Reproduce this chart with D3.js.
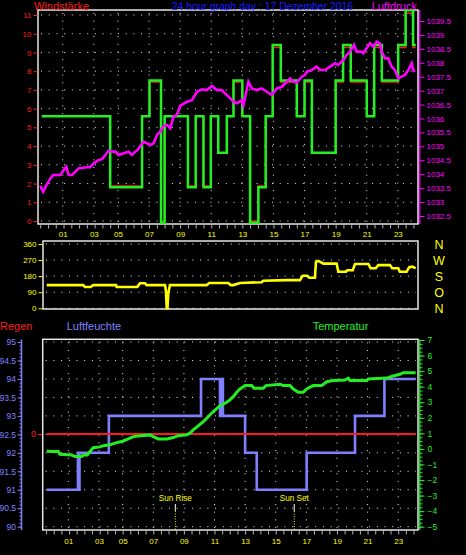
<!DOCTYPE html>
<html><head><meta charset="utf-8">
<script src="https://cdn.jsdelivr.net/npm/d3@7"></script>
<style>html,body{margin:0;padding:0;background:#000;overflow:hidden}</style>
</head><body><svg id="c" width="466" height="555"></svg>
<script>
// ---------- data ----------
const hourTicks = [1.45, 3.45, 5, 7, 9, 11, 13, 15, 17, 19, 21, 23];
const hourLabels = ["01","03","05","07","09","11","13","15","17","19","21","23"];

const windTicks = [0,1,2,3,4,5,6,7,8,9,10,11];
const pressTicks = [1032.5,1033,1033.5,1034,1034.5,1035,1035.5,1036,1036.5,1037,1037.5,1038,1038.5,1039,1039.5];
const dirTicks = [0,90,180,270,360];
const dirLabels = ["0","90","180","270","360"];
const dirLetters = ["N","O","S","W","N"];
const humTicks = [90,90.5,91,91.5,92,92.5,93,93.5,94,94.5,95];
const tempTicks = [-5,-4,-3,-2,-1,0,1,2,3,4,5,6,7];
const rainTicks = [0];

const windTimes = [0.1,4.5,6.55,7.03,7.77,8.0,9.5,10.0,10.5,10.97,11.45,12.0,12.43,13.0,13.5,14.03,14.5,14.95,15.47,16.5,17.0,17.47,19.0,19.48,19.97,21.0,21.48,21.97,23.02,23.5,23.98,24.15];
const windGust = [5.6,1.8,5.6,7.5,-0.1,5.6,1.8,5.6,1.8,5.6,3.65,5.6,7.5,5.6,-0.1,1.8,5.6,9.4,7.5,5.6,7.5,3.65,7.5,9.4,7.5,5.6,9.4,7.5,9.4,11.25,9.4,9.4];
const windAvg  = [5.6,1.87,5.6,7.42,0.0,5.6,1.87,5.6,1.87,5.6,3.65,5.6,7.42,5.6,0.0,1.87,5.6,9.26,7.42,5.6,7.42,3.65,7.42,9.26,7.42,5.6,9.26,7.42,9.26,11.1,9.26,9.26];

const pressTimes = [0.01,0.19,0.40,0.66,0.83,1.30,1.51,1.68,1.83,2.05,
  2.26,2.47,3.01,3.22,3.44,3.76,3.98,4.19,4.40,4.62,
  4.83,5.04,5.36,5.68,5.90,6.11,6.26,6.44,6.65,6.87,
  7.08,7.29,7.51,7.72,7.93,8.15,8.36,8.57,8.79,9.0,
  9.43,9.76,10.08,10.40,10.72,11.04,11.36,11.68,12.0,12.22,
  12.43,12.65,12.97,13.07,13.39,13.61,13.93,14.25,14.57,14.89,
  15.22,15.54,15.86,16.07,16.28,16.50,16.82,17.03,17.14,17.46,
  17.78,18.0,18.32,18.64,18.96,19.17,19.49,19.71,19.92,20.18,
  20.35,20.67,20.78,20.99,21.21,21.42,21.64,21.85,21.96,22.17,
  22.38,22.60,22.81,23.03,23.24,23.46,23.67,23.89,23.99,24.1];
const pressure = [1033.58,1033.37,1033.61,1033.85,1033.97,1033.97,1034.15,1034.27,1033.97,1033.97,
  1034.09,1034.21,1034.25,1034.25,1034.39,1034.51,1034.54,1034.69,1034.84,1034.81,
  1034.81,1034.69,1034.75,1034.81,1034.69,1034.81,1034.87,1035.01,1035.17,1035.11,
  1035.05,1035.11,1035.41,1035.53,1035.73,1035.77,1035.65,1036.07,1036.13,1036.45,
  1036.60,1036.66,1036.96,1037.05,1037.02,1037.17,1037.02,1037.02,1036.84,1036.73,
  1036.60,1036.55,1036.66,1036.48,1037.32,1037.08,1037.02,1037.08,1036.96,1036.84,
  1037.08,1037.14,1037.32,1037.44,1037.32,1037.29,1037.50,1037.56,1037.68,1037.74,
  1037.86,1037.74,1037.74,1037.86,1037.98,1037.92,1038.10,1038.28,1038.40,1038.64,
  1038.40,1038.40,1038.34,1038.52,1038.70,1038.58,1038.76,1038.70,1038.40,1038.16,
  1038.16,1037.86,1037.74,1037.44,1037.50,1037.56,1037.74,1037.98,1037.74,1037.68];

const dirTimes = [0.04,2.43,2.54,2.91,3.08,4.57,4.61,5.96,6.13,6.46,
  6.57,7.77,7.83,7.88,7.93,7.98,8.09,10.49,10.66,11.9,
  12.06,12.23,12.67,14.08,14.19,15.72,16.58,16.76,17.06,17.19,
  17.56,17.63,17.78,18.11,18.98,19.09,19.59,19.67,20.03,20.18,
  21.05,21.2,21.53,21.7,22.46,22.61,23.0,23.11,23.55,23.72,23.94,24.14];
const direction = [130,130,119,119,130,130,119,119,140,140,
  130,130,93,0,0,84,130,130,142,142,
  130,130,142,146,154,158,158,182,182,171,
  171,261,265,250,250,205,205,213,213,248,
  248,224,224,242,242,224,224,205,205,230,233,224];

const humTimes = [0.04,2.08,2.13,2.18,4.1,10.12,11.36,11.45,11.55,13.0,13.76,17.02,20.18,22.1,24.14];
const humidity = [91,92,91,92,93,94,93,94,93,92,91,92,93,94,94];

const tempTimes = [0.04,0.25,0.8,0.91,1.67,1.89,2.33,2.43,2.69,2.87,
  3.08,3.52,3.74,4.17,4.5,5.04,5.37,5.7,6.02,6.79,
  7.0,7.33,7.88,8.31,8.63,9.18,9.4,9.61,9.84,10.27,
  10.59,10.92,11.36,11.8,12.01,12.23,12.45,12.67,12.99,13.43,
  13.58,14.19,14.36,15.28,15.49,15.93,16.15,16.47,16.8,17.02,
  17.45,18.0,18.33,18.76,19.52,19.74,19.85,20.94,21.05,21.92,
  22.35,22.68,23.12,23.33,24.14];
const temperature = [-0.13,-0.17,-0.17,-0.34,-0.39,-0.49,-0.49,-0.39,-0.39,-0.17,
  0.08,0.13,0.21,0.26,0.37,0.51,0.64,0.79,0.83,0.9,
  0.79,0.64,0.64,0.73,0.85,0.9,1.01,1.22,1.4,1.75,
  2.07,2.4,2.78,3.0,3.15,3.36,3.64,3.85,4.07,4.07,
  3.9,3.9,4.07,4.16,4.07,4.07,3.85,3.64,3.64,3.85,
  4.07,4.07,4.32,4.39,4.43,4.54,4.39,4.39,4.5,4.54,
  4.58,4.69,4.8,4.9,4.9];

const rainTimes = [0.04, 24.14];
const rain = [0, 0];

const sunTimes = [8.44, 16.21];
const sunLabels = ["Sun Rise", "Sun Set"];

// ---------- drawing ----------
const F = "'Liberation Sans', Arial, sans-serif";
const svg = d3.select("#c");
svg.append("rect").attr("width",466).attr("height",555).attr("fill","#000");

const C = {red:"#ff1a1a", green:"#22f022", mag:"#ff00ff", blue:"#1a1aff", yel:"#ffff00", hum:"#8080ff", tgreen:"#22ee22", grid:"#e8e8e8", frame:"#e6e6e6", tick:"#b0b0b0"};

const top_ = {x0:38, x1:418, y0:10, y1:224};
const mid = {x0:43, x1:418, y0:241, y1:309};
const bot = {x0:42.7, x1:418, y0:339.3, y1:530};

const xTop = d3.scaleLinear().domain([0,24]).range([40.2, 413.4]);
const xBot = d3.scaleLinear().domain([0,24]).range([46.1, 413.5]);
const yWind = d3.scaleLinear().domain([0,11]).range([221,15]);
const yPress = d3.scaleLinear().domain([1032.5,1039.5]).range([216,21]);
const yDir = d3.scaleLinear().domain([0,360]).range([308.3,244]);
const yHum = d3.scaleLinear().domain([90,95]).range([526.7,342]);
const yTemp = d3.scaleLinear().domain([-5,7]).range([526.7,340]);
const yRain = d3.scaleLinear().domain([0,1]).range([434,418]);

function grid(f, ys, xs){
  const g = svg.append("g").attr("stroke",C.grid).attr("stroke-width",1).attr("stroke-dasharray","1,6.7");
  g.selectAll("line.h").data(ys).join("line").attr("x1",f.x0+3).attr("x2",f.x1-2).attr("y1",d=>d).attr("y2",d=>d);
  g.selectAll("line.v").data(xs).join("line").attr("y1",f.y0+3).attr("y2",f.y1-2).attr("x1",d=>d).attr("x2",d=>d);
}
function frame(f){
  svg.append("rect").attr("x",f.x0).attr("y",f.y0).attr("width",f.x1-f.x0).attr("height",f.y1-f.y0)
    .attr("fill","none").attr("stroke",C.frame).attr("stroke-width",1.5);
}
function styleAxis(g, color, fs, keepDomain){
  g.attr("color",color).attr("font-family",F).attr("font-size",fs);
  if(!keepDomain) g.select(".domain").remove();
  return g;
}
function series(xs, ys, xsc, ysc, color, w, curve){
  const data = xs.map((t,i)=>[t, ys[i]]);
  svg.append("path").datum(data)
    .attr("fill","none").attr("stroke",color).attr("stroke-width",w).attr("stroke-linejoin","miter")
    .attr("d", d3.line().x(d=>xsc(d[0])).y(d=>ysc(d[1])).curve(curve||d3.curveLinear));
}
function text(x,y,s,color,fs,anchor){
  svg.append("text").attr("x",x).attr("y",y).text(s).attr("fill",color)
    .attr("font-family",F).attr("font-size",fs).attr("text-anchor",anchor||"start");
}

// ===== top chart =====
grid(top_, windTicks.map(yWind), hourTicks.map(xTop));
frame(top_);
styleAxis(svg.append("g").attr("transform","translate(37.5,0)")
  .call(d3.axisLeft(yWind).tickValues(windTicks).tickSize(4).tickPadding(2)), C.red, 8);
styleAxis(svg.append("g").attr("transform","translate(419.5,0)")
  .call(d3.axisRight(yPress).tickValues(pressTicks).tickSize(5).tickPadding(2).tickFormat(d=>String(d))), C.mag, 8);
svg.append("line").attr("x1",419.8).attr("x2",419.8).attr("y1",10).attr("y2",224).attr("stroke",C.mag).attr("stroke-width",1.2);
styleAxis(svg.append("g").attr("transform","translate(0,224.5)")
  .call(d3.axisBottom(xTop).tickValues(d3.range(0,24.01,0.5)).tickSize(4).tickFormat("")), C.tick, 8);
styleAxis(svg.append("g").attr("transform","translate(0,224.5)")
  .call(d3.axisBottom(xTop).tickValues(hourTicks).tickSize(0).tickPadding(7.2).tickFormat((d,i)=>hourLabels[i])), C.yel, 8);

series(windTimes, windAvg, xTop, yWind, C.red, 1.5, d3.curveStepAfter);
series(windTimes, windGust, xTop, yWind, C.green, 2.5, d3.curveStepAfter);
series(pressTimes, pressure, xTop, yPress, C.mag, 2.6);

text(34, 9.5, "Windstärke", C.red, 11);
text(171.7, 9.5, "24 hour graph day : 17 Dezember 2016", C.blue, 10.4);
text(371.7, 9.5, "Luftdruck", C.mag, 11);

// ===== middle chart =====
grid(mid, dirTicks.map(yDir), []);
frame(mid);
styleAxis(svg.append("g").attr("transform","translate(42.5,0)")
  .call(d3.axisLeft(yDir).tickValues(dirTicks).tickSize(4).tickPadding(2).tickFormat((d,i)=>dirLabels[i])), C.yel, 8);
series(dirTimes, direction, xBot, yDir, C.yel, 2.6);
svg.append("g").selectAll("text").data(dirTicks).join("text")
  .attr("x",439).attr("y",d=>yDir(d)).attr("dy","0.4em").attr("text-anchor","middle")
  .attr("fill",C.yel).attr("font-family",F).attr("font-size",12.5).text((d,i)=>dirLetters[i]);

// ===== bottom chart =====
grid(bot, humTicks.map(yHum), hourTicks.map(xBot));
frame(bot);
// humidity axis
styleAxis(svg.append("g").attr("transform","translate(21.5,0)")
  .call(d3.axisLeft(yHum).tickValues(d3.range(90,95.001,0.1)).tickSize(2).tickFormat("")), C.hum, 8);
styleAxis(svg.append("g").attr("transform","translate(21.5,0)")
  .call(d3.axisLeft(yHum).tickValues(humTicks).tickSize(4).tickPadding(1.5).tickFormat(d=>String(d))), C.hum, 8.5);
svg.append("line").attr("x1",21.5).attr("x2",21.5).attr("y1",339.5).attr("y2",530).attr("stroke",C.hum).attr("stroke-width",1.5);
// rain axis
styleAxis(svg.append("g").attr("transform","translate(42,0)")
  .call(d3.axisLeft(yRain).tickValues(rainTicks).tickSize(4).tickPadding(2).tickFormat(d=>String(d))), C.red, 9);
// temp axis
styleAxis(svg.append("g").attr("transform","translate(419.5,0)")
  .call(d3.axisRight(yTemp).tickValues(d3.range(-5,7.001,0.25)).tickSize(3).tickFormat("")), C.tgreen, 8);
styleAxis(svg.append("g").attr("transform","translate(419.5,0)")
  .call(d3.axisRight(yTemp).tickValues(tempTicks).tickSize(5).tickPadding(3)), C.tgreen, 8.5);
svg.append("line").attr("x1",419.8).attr("x2",419.8).attr("y1",339.5).attr("y2",530).attr("stroke",C.tgreen).attr("stroke-width",1.2);
// x axis
styleAxis(svg.append("g").attr("transform","translate(0,530.5)")
  .call(d3.axisBottom(xBot).tickValues(d3.range(0,24.01,0.5)).tickSize(4).tickFormat("")), C.tick, 8);
styleAxis(svg.append("g").attr("transform","translate(0,530.5)")
  .call(d3.axisBottom(xBot).tickValues(hourTicks).tickSize(0).tickPadding(7.8).tickFormat((d,i)=>hourLabels[i])), C.yel, 8);

series(humTimes, humidity, xBot, yHum, C.hum, 2.6, d3.curveStepAfter);
series(rainTimes, rain, xBot, yRain, C.red, 2.2);
series(tempTimes, temperature, xBot, yTemp, C.tgreen, 3);

// sun markers
sunTimes.forEach((t,i)=>{
  const x = xBot(t);
  text(x, 501, sunLabels[i], C.yel, 8.2, "middle");
  svg.append("line").attr("x1",x).attr("x2",x).attr("y1",504).attr("y2",511).attr("stroke","#fff").attr("stroke-width",1);
  svg.append("line").attr("x1",x).attr("x2",x).attr("y1",511).attr("y2",530).attr("stroke",C.yel).attr("stroke-width",1).attr("stroke-dasharray","1,1.5");
});

text(0, 329.5, "Regen", C.red, 11);
text(66.7, 329.5, "Luftfeuchte", C.hum, 11);
text(312.7, 329.5, "Temperatur", C.tgreen, 11);
</script></body></html>
